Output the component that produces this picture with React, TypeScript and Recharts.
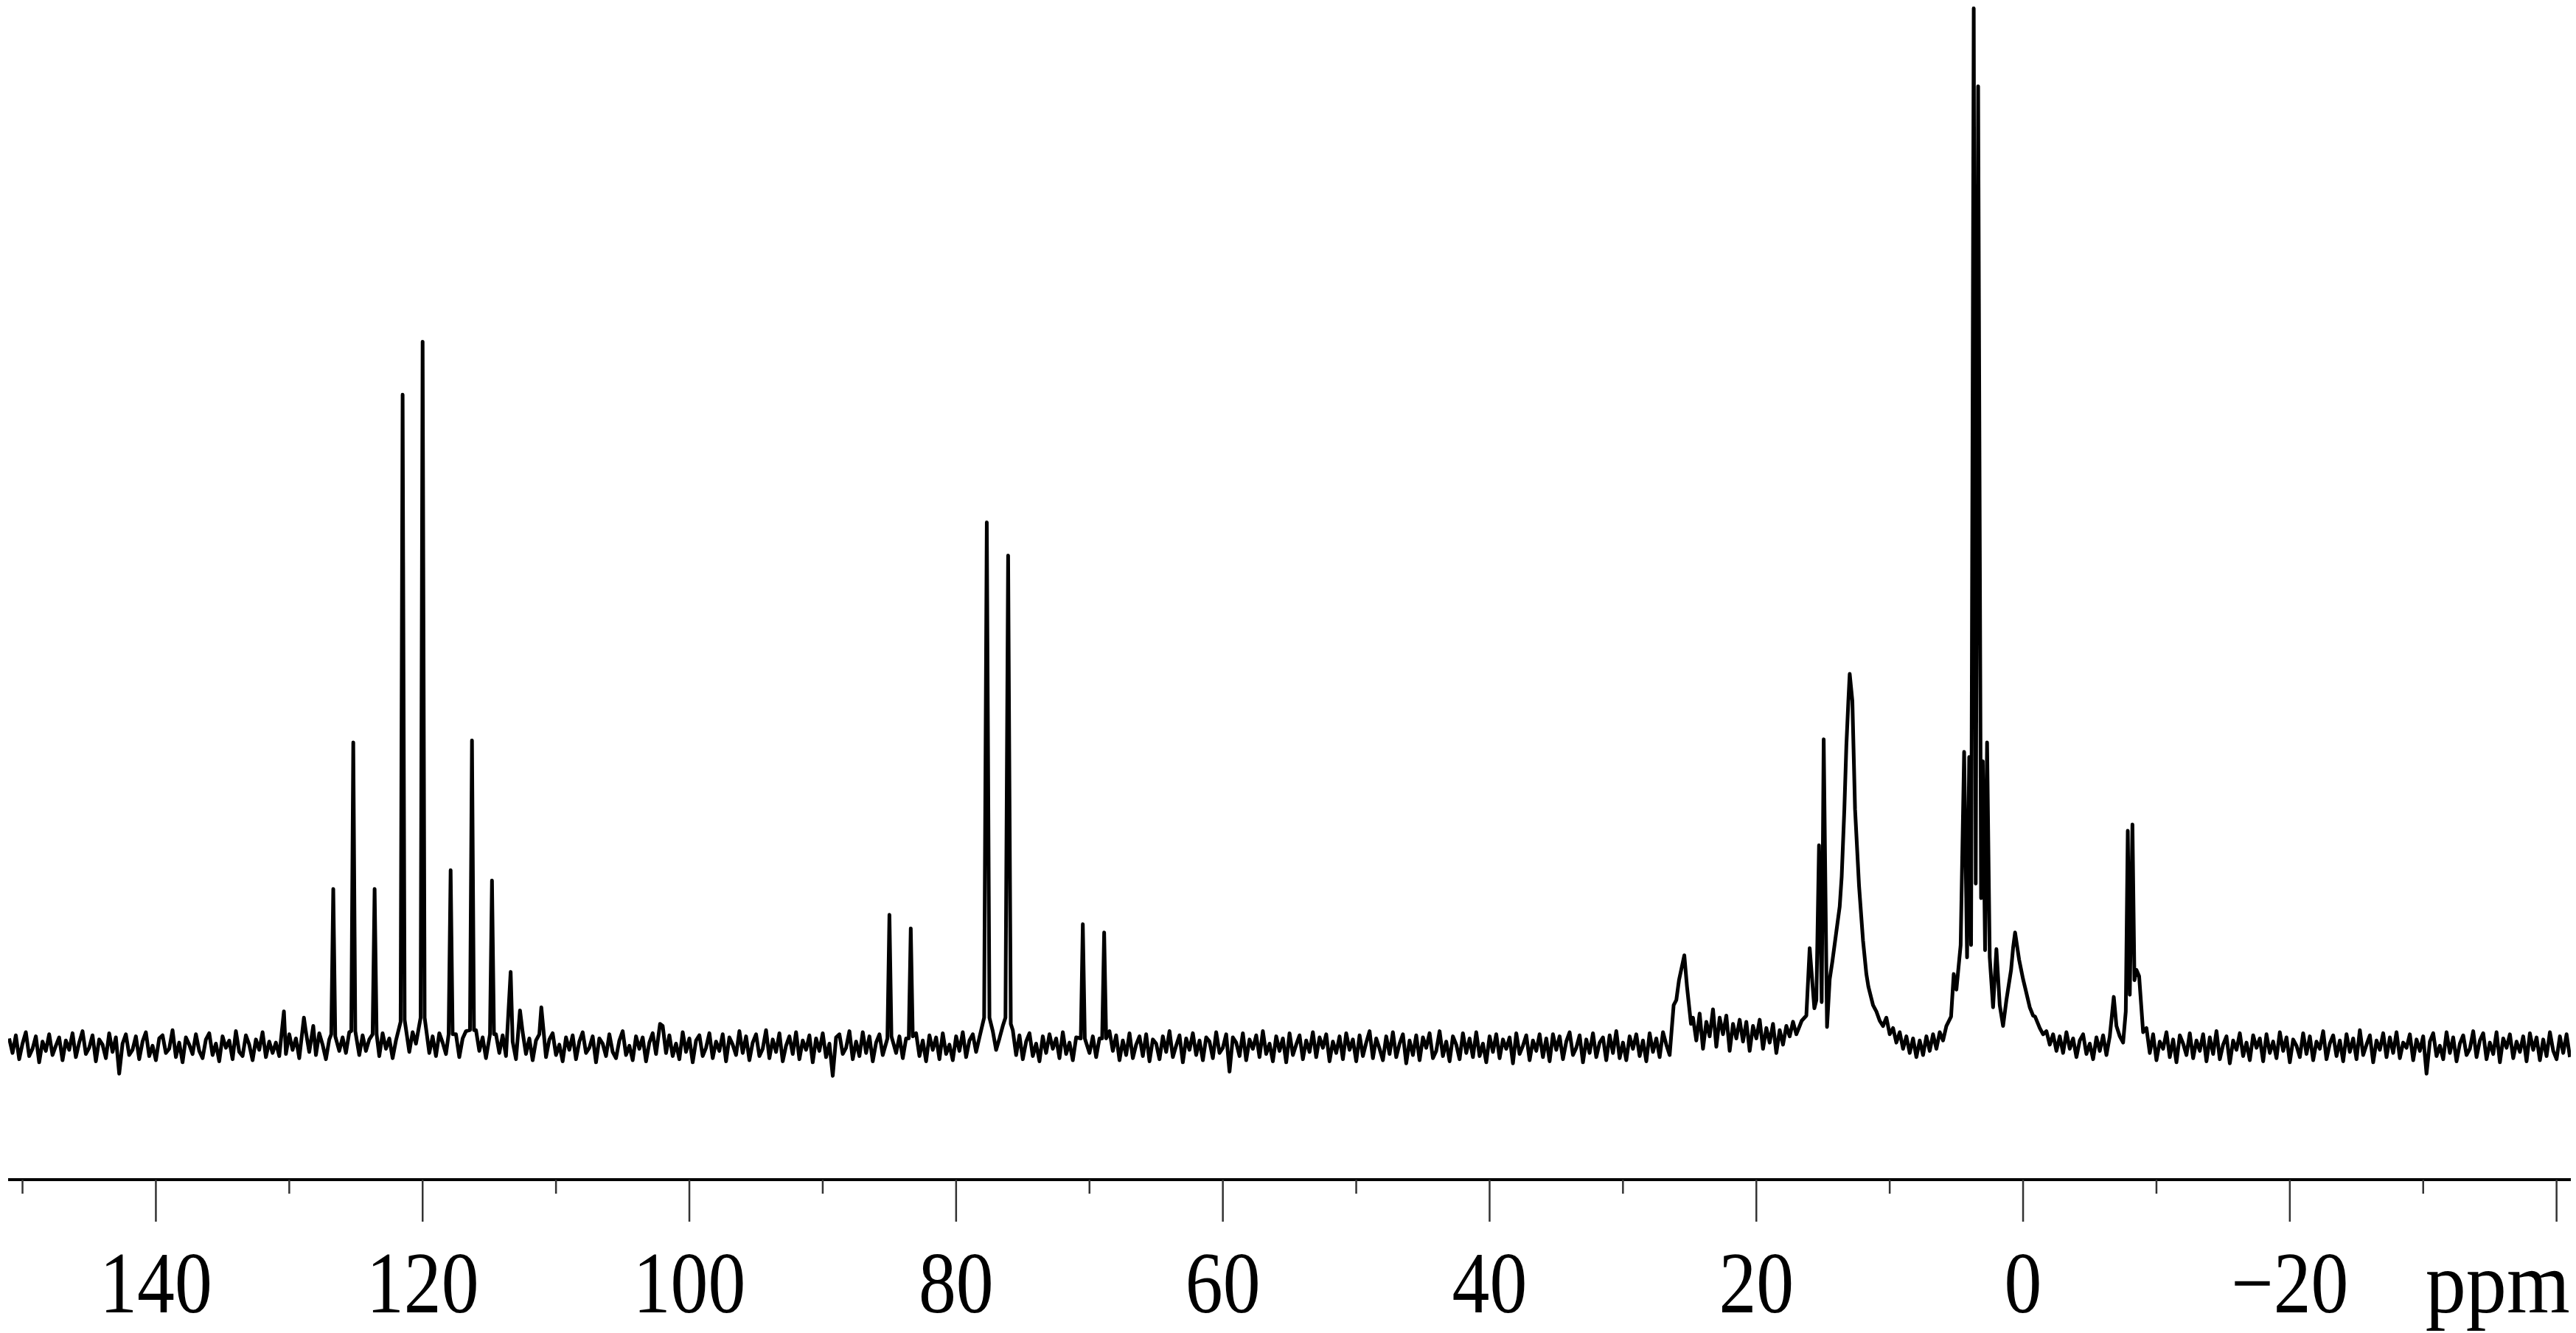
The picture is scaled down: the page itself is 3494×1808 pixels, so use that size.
import { LineChart, Line, XAxis, YAxis } from "recharts";

// 13C spectrum, intensity in arbitrary units (tallest line = 1000)
const PPM_START = 151;
const PPM_STEP = 0.25;

// baseline trace read every 0.25 ppm, one row per 5 ppm (151 -> -41)
const baselineRows: number[][] = [
  [8, -6, 11, -12, 3, 14, -9, -2, 10, -15, 5, -4, 12, -8, 1, 9, -13, 6, -3, 13],
  [-10, 4, 15, -7, -1, 11, -14, 7, 2, -11, 13, -5, 9, -26, 3, 12, -8, -3, 10, -12],
  [5, 14, -9, 1, -13, 8, 11, -6, -2, 16, -10, 4, -15, 9, 2, -7, 12, -4, -11, 7],
  [13, -8, 3, -14, 10, -1, 6, -12, 15, -5, -9, 11, 2, -13, 7, -3, 14, -10, 5, -6],
  [4, -9, 10, -7, 12, -3, 8, -11, 6, 14, -5, 9, -8, 13, 2, -12, 7, 15, 10, -4],
  [9, -6, 14, 20, 15, -8, 11, -4, 7, 10, 12, -9, 13, -2, 8, -11, 6, 18, 20, 12],
  [-5, 14, 3, 22, 20, 18, -6, 10, -9, 13, 4, -7, 10, 10, 12, -10, 8, 15, 10, 10],
  [16, -4, 9, -11, 14, 10, 12, -6, 11, -9, 10, 5, -12, 10, 14, -7, 8, -13, 6, 12],
  [10, -10, 7, 13, -8, 2, -14, 9, -3, 11, -12, 5, 14, -6, -1, 10, -15, 8, 3, -9],
  [12, -5, -11, 6, 15, -8, 1, -13, 10, -2, 9, -14, 4, 13, -7, 10, 20, -6, 11, -9],
  [3, -12, 14, -5, 8, -15, 6, 11, -9, -1, 13, -11, 5, -4, 12, -14, 9, 2, -8, 15],
  [-6, 10, -13, 4, 12, -9, -2, 16, -11, 7, -5, 13, -14, 1, 10, -7, 14, -12, 6, -3],
  [11, -15, 8, -4, 13, -10, 3, -28, 9, 12, -7, -1, 15, -12, 5, -9, 14, -6, 10, -14],
  [4, 12, -8, 9, 10, 14, -6, 10, -11, 8, 10, 10, 13, -9, 6, -14, 11, -3, 9, -12],
  [13, -7, 2, -13, 10, -4, 14, -10, 6, 12, -5, 9, 18, 10, 10, 15, -3, 8, 20, 10],
  [10, 16, -8, 11, -12, 5, 13, -9, 3, -14, 10, -6, 12, -2, 8, -11, 14, -7, 4, -13],
  [9, 14, 10, 12, -6, 10, -10, 8, 10, 10, 15, -4, 11, -13, 6, -8, 13, -11, 2, 10],
  [-9, 12, -14, 7, 3, -12, 10, -5, 15, -10, 1, 11, -15, 8, -3, 13, -8, 6, -13, 9],
  [5, -11, 14, -6, -1, 12, -24, 9, 4, -9, 13, -13, 7, -2, 11, -10, 15, -7, 3, -14],
  [10, -4, 8, -15, 13, -8, 2, 11, -12, 6, -5, 14, -10, 9, -1, 12, -14, 5, -6, 10],
  [-12, 13, -3, 7, -14, 11, -9, 4, 15, -11, 8, -2, -13, 10, -7, 14, -10, 3, 12, -16],
  [6, -8, 11, -13, 9, -1, 13, -11, -4, 15, -9, 5, -14, 10, 2, -12, 13, -6, 8, -10],
  [14, -9, 3, -15, 10, -5, 12, -11, 7, -2, 9, -16, 13, -7, 1, 11, -13, 6, -4, 12],
  [-10, 8, -14, 12, -3, 10, -12, 5, 14, -8, -1, 11, -15, 7, -6, 13, -10, 4, 9, -13],
  [11, -6, 15, -11, 4, -13, 10, -2, 12, -9, 6, -14, 13, -5, 8, -10, 14, 2, -8, 16],
  [45, 60, 75, 55, 20, 28, 6, 32, -2, 24, 10, 36, 0, 28, 12, 30, -4, 22, 8, 26],
  [5, 24, -4, 20, 8, 26, -2, 18, 4, 22, -6, 16, 2, 20, 10, 24, 12, 20, 10, 30],
  [90, 40, 45, 180, 40, 18, 65, 80, 110, 135, 190, 290, 360, 330, 225, 150, 100, 70, 55, 40],
  [30, 25, 20, 28, 12, 18, 4, 14, -2, 10, -6, 8, -10, 6, -8, 10, -4, 12, -2, 14],
  [6, 20, 25, 66, 55, 94, 280, 82, 275, 94, 153, 925, 271, 89, 82, 34, 90, 40, 16, 45],
  [70, 95, 110, 80, 65, 53, 38, 30, 25, 18, 8, 15, 2, 12, -4, 10, -6, 14, -2, 8],
  [-10, 6, 12, -7, 3, -12, 9, -4, 11, -8, 10, 44, 20, 10, 0, 30, 46, 212, 70, 64],
  [10, 18, -6, 12, -13, 5, -2, 14, -10, 7, -15, 11, 3, -8, 13, -11, 6, -4, 12, -14],
  [9, -7, 15, -12, 2, 10, -16, 6, -3, 13, -9, 4, -13, 11, -1, 8, -14, 12, -6, 5],
  [-11, 14, -4, 9, -15, 7, 1, -10, 13, -7, 10, -13, 5, -2, 15, -12, 3, 11, -9, 6],
  [-14, 12, -5, 8, -12, 16, -8, 2, 11, -15, 6, -3, 13, -10, 9, -6, 14, -11, 4, -1],
  [12, -13, 7, -4, 10, -26, 5, 13, -9, 1, -12, 14, -6, 9, -14, 3, 11, -8, -2, 15],
  [-10, 6, 13, -12, 4, -7, 14, -15, 8, -1, 12, -11, 5, -5, 10, -14, 13, -3, 9, -13],
  [7, -9, 14, -4, -12, 10, -6, 12, -10],
];

// lines and shoulders: [ppm, intensity]
const peakPoints: [number, number][] = [
  [130.4, 34], [128.9, 28], [128.2, 20],
  [126.85, 12], [126.7, 152], [126.55, 10],
  [125.35, 15], [125.2, 293], [125.05, 15],
  [123.75, 12], [123.6, 152], [123.45, 12],
  [121.65, 24], [121.5, 628], [121.35, 26],
  [120.15, 28], [120.0, 679], [119.85, 28],
  [118.05, 12], [117.9, 170], [117.75, 12],
  [116.45, 16], [116.3, 295], [116.15, 16],
  [114.95, 12], [114.8, 160], [114.65, 12],
  [113.4, 72], [112.7, 35], [111.1, 38], [102.2, 22],
  [85.15, 8], [85.0, 127], [84.85, 10],
  [83.55, 8], [83.4, 114], [83.25, 10],
  [77.9, 28], [77.7, 505], [77.5, 28],
  [76.3, 28], [76.1, 473], [75.9, 22],
  [70.65, 8], [70.5, 118], [70.35, 8],
  [69.05, 8], [68.9, 110], [68.75, 8],
  [26.2, 40], [25.8, 64], [25.4, 88], [25.2, 58], [24.9, 22],
  [16.6, 25], [16.0, 95], [15.65, 37], [15.3, 194], [15.1, 43], [14.95, 296],
  [14.7, 19], [14.3, 82], [14.0, 111], [13.6, 164], [13.4, 229], [13.1, 333],
  [13.0, 359], [12.8, 333], [12.6, 229], [12.3, 155], [12.0, 102], [11.6, 58], [11.0, 34],
  [5.4, 29], [5.2, 70], [4.68, 98], [4.42, 284], [4.2, 86], [4.04, 279], [3.9, 98],
  [3.7, 1000], [3.55, 157], [3.37, 925], [3.15, 143], [3.02, 275], [2.85, 93],
  [2.7, 293], [2.5, 86], [2.25, 38], [2.0, 94], [1.5, 20],
  [0.9, 74], [0.6, 110], [0.3, 84], [-0.15, 57], [-0.9, 29], [-1.5, 12],
  [-6.8, 48], [-7.5, 4], [-7.7, 34], [-7.85, 208], [-8.0, 50], [-8.2, 214],
  [-8.35, 64], [-8.5, 74], [-8.7, 68], [-9.0, 14],
];

const axisTicks = [150, 140, 130, 120, 110, 100, 90, 80, 70, 60, 50, 40, 30, 20, 10, 0, -10, -20, -30, -40];
const labelTicks = [140, 120, 100, 80, 60, 40, 20, 0, -20];

const detail = peakPoints.map(([ppm, v]) => ({ ppm, v }));
const grid = baselineRows.flat().map((v, i) => ({ ppm: PPM_START - i * PPM_STEP, v }));
const spectrum = [
  ...grid.filter((g) => !detail.some((d) => Math.abs(d.ppm - g.ppm) < 0.13)),
  ...detail,
].sort((a, b) => b.ppm - a.ppm);

const serif = '"Liberation Serif", "Times New Roman", serif';

const PpmTick = ({ x, y, payload }: any) => {
  const v = payload.value;
  const major = v % 20 === 0;
  return (
    <g>
      <line x1={x} x2={x} y1={y} y2={y + (major ? 57 : 19)} stroke="#333" strokeWidth={2.5} />
      {labelTicks.includes(v) && (
        <text
          transform={`translate(${x},${y + 180}) scale(0.96,1.12)`}
          textAnchor="middle"
          fontSize={106}
          fontFamily={serif}
          fill="#000"
        >
          {v < 0 ? `\u2212${-v}` : v}
        </text>
      )}
      {v === -40 && (
        <text
          transform={`translate(${x + 18},${y + 180}) scale(1.04,1.12)`}
          textAnchor="end"
          fontSize={106}
          fontFamily={serif}
          fill="#000"
        >
          ppm
        </text>
      )}
    </g>
  );
};

export default function App() {
  return (
    <div style={{ position: "absolute", left: 0, top: 0, background: "#fff" }}>
      <LineChart
        width={3494}
        height={1808}
        data={spectrum}
        margin={{ top: 0, right: 7, bottom: 0, left: 11 }}
      >
        <XAxis
          type="number"
          dataKey="ppm"
          domain={[-41.07, 151.08]}
          reversed
          allowDataOverflow
          ticks={axisTicks}
          interval={0}
          height={208}
          tickSize={0}
          tickMargin={0}
          tickLine={false}
          axisLine={{ stroke: "#000", strokeWidth: 4 }}
          tick={(p: any) => <PpmTick {...p} />}
        />
        <YAxis hide type="number" domain={[-128, 1008]} allowDataOverflow />
        <Line
          type="linear"
          dataKey="v"
          stroke="#000"
          strokeWidth={5}
          strokeLinejoin="round"
          dot={false}
          isAnimationActive={false}
        />
      </LineChart>
    </div>
  );
}
